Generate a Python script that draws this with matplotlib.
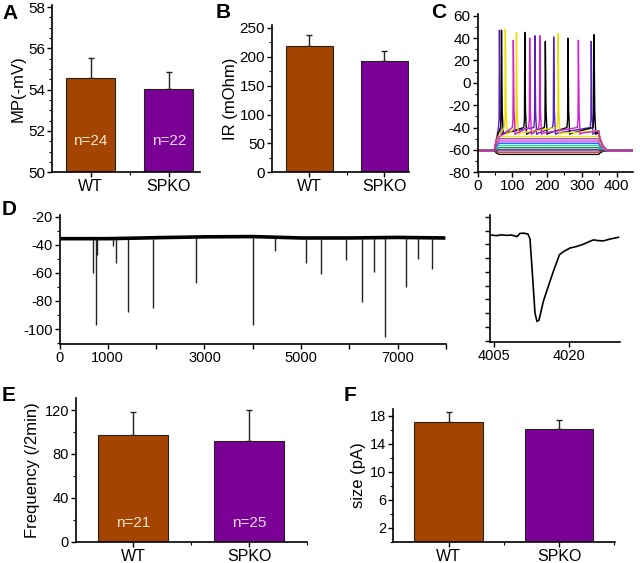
import matplotlib
matplotlib.use("Agg")
import matplotlib.pyplot as plt
from matplotlib.ticker import MultipleLocator, FixedLocator

plt.rcParams['font.family'] = ['Liberation Sans', 'DejaVu Sans']
plt.rcParams['axes.unicode_minus'] = False

# ---- data ----
groups = ['WT', 'SPKO']
bar_colors = ['#A34400', '#7B0096']
n_colors = ['#F8E6D2', '#F4D8F4']

mp_mean = [54.58, 54.02]
mp_err = [0.94, 0.85]
mp_n = ['n=24', 'n=22']

ir_mean = [218, 193]
ir_err = [20, 17.5]

freq_mean = [97.3, 92.0]
freq_err = [21.2, 28.0]
freq_n = ['n=21', 'n=25']

size_mean = [17.1, 16.15]
size_err = [1.45, 1.25]

# panel C: current-step traces
c_base = -60.5
c_levels = [-64, -62, -60, -58, -56, -54, -52, -50, -48]
c_level_colors = ['black', '#E02020', '#1A1AB0', '#10A010', '#20D0E8',
                  '#3050FF', '#E040E0', '#9040C0', '#F0E000']
c_spike_times = [[63, 165, 219, 327],
                 [69, 136, 195, 260, 335],
                 [80, 112, 232],
                 [103, 150, 179, 290]]
c_spike_peaks = [[47, 42, 41, 37],
                 [47, 45, 37, 40, 43],
                 [48, 45, 44],
                 [38, 40, 42, 38]]
c_spike_colors = ['#5A20C0', 'black', '#E8E000', '#D020D0']

# panel D: spontaneous events
d_base_t = [0, 1000, 2000, 3000, 4000, 5000, 6000, 7000, 7950]
d_base_v = [-35.5, -35.5, -34.8, -34.2, -34.0, -35.0, -35.0, -34.6, -35.0]
d_event_t = [697, 753, 780, 1110, 1172, 1426, 1942, 2828, 4010, 4470, 5103,
             5412, 5921, 6258, 6520, 6739, 7180, 7412, 7701]
d_event_v = [-60, -97, -47, -41, -53, -88, -85, -67, -97, -44, -53,
             -61, -51, -81, -59, -106, -70, -50, -57]
d_xticks = [0, 1000, 2000, 3000, 4000, 5000, 6000, 7000, 8000]
d_xlabels = ['0', '1000', '', '3000', '', '5000', '', '7000', '']

inset_t = [4004.5, 4005.5, 4006.5, 4007.5, 4008.5, 4009.6, 4010.2, 4011.0,
           4011.8, 4012.2, 4012.6, 4013.2, 4013.6, 4014.0, 4014.9, 4015.9,
           4016.9, 4018.1, 4019.0, 4020.2, 4021.5, 4022.9, 4024.0, 4024.9,
           4025.8, 4026.9, 4028.3, 4029.9]
inset_v = [-33.2, -33.6, -33.0, -33.4, -33.2, -34.3, -32.0, -31.8,
           -32.5, -36, -57, -90, -96, -95, -81, -70,
           -59.3, -47.4, -45, -42.6, -41.5, -39.8, -38, -36.7,
           -37.2, -37.4, -36, -34.8]

W, H = 640, 563
fig = plt.figure(figsize=(6.4, 5.63), dpi=100)


def add_ax(x0, x1, y0, y1):
    # pixel box -> figure fraction
    return fig.add_axes([x0 / W, 1 - y1 / H, (x1 - x0) / W, (y1 - y0) / H])


def style(ax, fs):
    for s in ['top', 'right']:
        ax.spines[s].set_visible(False)
    for s in ['left', 'bottom']:
        ax.spines[s].set_linewidth(1.2)
    ax.tick_params(which='major', direction='out', length=3.5, width=1.0,
                   labelsize=fs, pad=1.5)
    ax.tick_params(which='minor', direction='out', length=2, width=0.8)


def bars(ax, mean, err, width, nlab=None, ny=None):
    x = [1, 2]
    ax.bar(x, mean, width=width, color=bar_colors, edgecolor='#222222',
           linewidth=0.8, zorder=2)
    ax.errorbar(x, mean, yerr=[[0, 0], err], fmt='none', ecolor='#222222',
                elinewidth=1.0, capsize=2, capthick=1.0, zorder=1)
    ax.set_xticks(x)
    ax.set_xticklabels(groups, fontsize=11.5)
    ax.xaxis.set_minor_locator(FixedLocator([1.5, 2.5]))
    if nlab:
        for xi, t, c in zip(x, nlab, n_colors):
            ax.text(xi, ny, t, color=c, fontsize=11, ha='center', va='center')


# A
axA = add_ax(52, 200, 5, 172.3)
style(axA, 11)
bars(axA, mp_mean, mp_err, 0.63, mp_n, 51.5)
axA.set_xlim(0.506, 2.40)
axA.set_ylim(50, 58.1)
axA.yaxis.set_major_locator(MultipleLocator(2))
axA.yaxis.set_minor_locator(MultipleLocator(0.5))
axA.set_ylabel('MP(-mV)', fontsize=12, labelpad=2)

# B
axB = add_ax(272, 409, 25, 172.3)
style(axB, 11)
bars(axB, ir_mean, ir_err, 0.63)
axB.set_xlim(0.5, 2.33)
axB.set_ylim(0, 255)
axB.yaxis.set_major_locator(MultipleLocator(50))
axB.yaxis.set_minor_locator(MultipleLocator(25))
axB.set_ylabel('IR (mOhm)', fontsize=12, labelpad=1)

# C
axC = add_ax(477.5, 633, 14, 172.3)
style(axC, 11)


def step_trace(level):
    d = level - c_base
    xs = [0, 48, 54, 62, 348, 354, 362, 375, 450]
    ys = [c_base, c_base, c_base + 0.6 * d, level, level,
          c_base + 0.5 * d, c_base + 0.2 * d, c_base, c_base]
    return xs, ys


def spike_trace(times, peaks):
    xs = [0, 48, 55]
    ys = [c_base, c_base, -50]
    for t, p in zip(times, peaks):
        xs += [t - 3, t - 1, t, t + 2, t + 5, t + 10]
        ys += [-40, -33, p, -25, -46, -45]
    xs += [348, 352, 360, 372, 450]
    ys += [-43, -50, -56, c_base, c_base]
    return xs, ys


for lev, col in zip(c_levels, c_level_colors):
    xs, ys = step_trace(lev)
    axC.plot(xs, ys, color=col, lw=1.0)
for tt, pp, col in zip(c_spike_times, c_spike_peaks, c_spike_colors):
    xs, ys = spike_trace(tt, pp)
    axC.plot(xs, ys, color=col, lw=1.0)
axC.set_xlim(0, 447)
axC.set_ylim(-80, 61.5)
axC.yaxis.set_major_locator(MultipleLocator(20))
axC.yaxis.set_minor_locator(MultipleLocator(10))
axC.xaxis.set_major_locator(MultipleLocator(100))
axC.xaxis.set_minor_locator(MultipleLocator(50))

# D main
axD = add_ax(59.5, 446, 215, 344)
style(axD, 10.5)
axD.plot(d_base_t, d_base_v, color='black', lw=2.6, solid_joinstyle='round')
base_at = [d_base_v[min(int(t // 1000), len(d_base_v) - 1)] for t in d_event_t]
axD.vlines(d_event_t, d_event_v, base_at, color='#222222', lw=1.0)
axD.set_xlim(0, 7970)
axD.set_ylim(-110.7, -18.6)
axD.set_xticks(d_xticks)
axD.set_xticklabels(d_xlabels)
axD.yaxis.set_major_locator(MultipleLocator(20))
axD.yaxis.set_minor_locator(MultipleLocator(10))

# D inset
axDi = add_ax(490, 620, 215, 341.7)
style(axDi, 10.5)
axDi.plot(inset_t, inset_v, color='black', lw=1.2)
axDi.set_xlim(4004.2, 4030.2)
axDi.set_ylim(-110.7, -18.6)
axDi.set_xticks([4005, 4020])
axDi.yaxis.set_major_locator(MultipleLocator(10))
axDi.set_yticklabels([])

# E
axE = add_ax(76, 307, 398, 541.7)
style(axE, 10.5)
bars(axE, freq_mean, freq_err, 0.606, freq_n, 16.7)
axE.set_xlim(0.51, 2.5)
axE.set_ylim(0, 131)
axE.yaxis.set_major_locator(MultipleLocator(40))
axE.yaxis.set_minor_locator(MultipleLocator(20))
axE.set_ylabel('Frequency (/2min)', fontsize=12, labelpad=3)

# F
axF = add_ax(393.3, 615, 409, 541.7)
style(axF, 10.5)
bars(axF, size_mean, size_err, 0.618)
axF.set_xlim(0.5, 2.507)
axF.set_ylim(0, 19)
axF.yaxis.set_major_locator(FixedLocator([2, 6, 10, 14, 18]))
axF.yaxis.set_minor_locator(FixedLocator([0, 4, 8, 12, 16]))
axF.set_ylabel('size (pA)', fontsize=12, labelpad=3)

# panel letters
for lab, x, y in [('A', 2, 4), ('B', 216, 3), ('C', 431, 3),
                  ('D', 2, 200), ('E', 2, 386), ('F', 344, 386)]:
    fig.text(x / W, 1 - y / H, lab, fontsize=15, fontweight='bold',
             ha='left', va='top')

fig.savefig('out.png', dpi=100)
